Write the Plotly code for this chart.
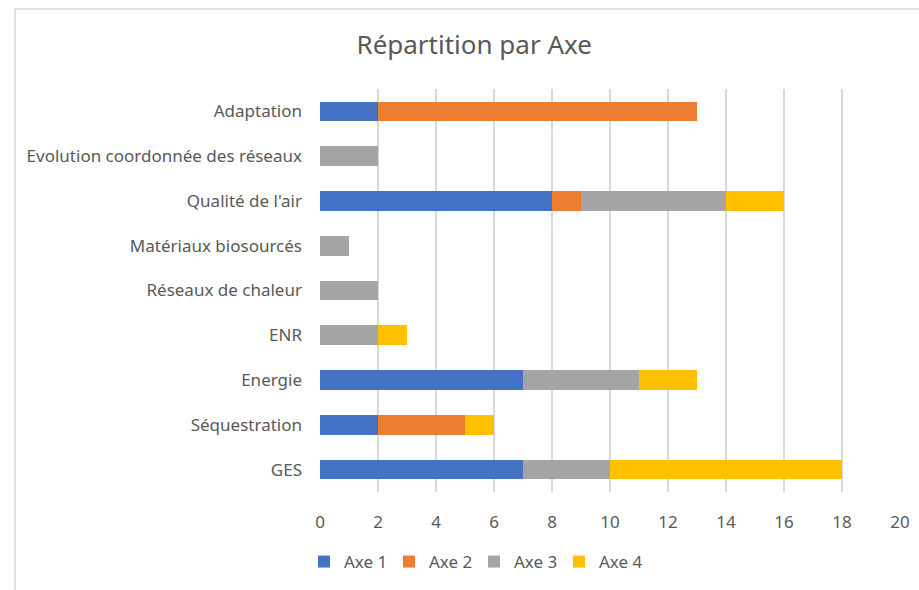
import plotly.graph_objs as go

categories = ['Adaptation', 'Evolution coordonnée des réseaux', "Qualité de l'air",
              'Matériaux biosourcés', 'Réseaux de chaleur', 'ENR', 'Energie',
              'Séquestration', 'GES']
axe1 = [2, 0, 8, 0, 0, 0, 7, 2, 7]
axe2 = [11, 0, 1, 0, 0, 0, 0, 3, 0]
axe3 = [0, 2, 5, 1, 2, 2, 4, 0, 3]
axe4 = [0, 0, 2, 0, 0, 1, 2, 1, 8]
x_ticks = [0, 2, 4, 6, 8, 10, 12, 14, 16, 18, 20]

series = [('Axe 1', axe1, '#4472C4'), ('Axe 2', axe2, '#ED7D31'),
          ('Axe 3', axe3, '#A5A5A5'), ('Axe 4', axe4, '#FFC000')]

font = 'Noto Sans'
grey = '#595959'

data = [go.Bar(y=categories, x=vals, name=name, orientation='h',
               marker=dict(color=color, line=dict(width=0)))
        for name, vals, color in series]

layout = go.Layout(
    width=919, height=590,
    margin=dict(l=320, r=19, t=89, b=98, autoexpand=False),
    barmode='stack', bargap=0.56,
    paper_bgcolor='white', plot_bgcolor='white',
    font=dict(family=font, color=grey, size=17),
    title=dict(text='Répartition par Axe', x=0.516, xref='container', xanchor='center',
               y=1 - 45 / 590, yref='container', yanchor='middle',
               font=dict(size=26, color=grey, family=font)),
    xaxis=dict(range=[0, 20], tickvals=x_ticks, showgrid=True, gridcolor='#d9d9d9',
               gridwidth=1.5, zeroline=False, showline=False, ticks='', automargin=False,
               ticklabelstandoff=18, tickfont=dict(size=17, color=grey)),
    yaxis=dict(autorange='reversed', showgrid=False, zeroline=False, showline=False,
               ticks='', automargin=False, ticklabelstandoff=17,
               tickfont=dict(size=17, color=grey)),
    legend=dict(orientation='h', x=(474 - 320) / 580, xanchor='center',
                y=(492 - 562) / 403, yanchor='middle', traceorder='normal',
                entrywidth=40, font=dict(size=17, color=grey)),
    shapes=[dict(type='rect', xref='paper', yref='paper',
                 x0=(15 - 320) / 580, x1=(930 - 320) / 580,
                 y0=(492 - 600) / 403, y1=(492 - 9) / 403,
                 line=dict(color='#d9d9d9', width=1.5))],
)

fig = go.Figure(data=data, layout=layout)
# drop the browser's default page margin so the figure sits at (0, 0)
fig.write_html('out.html', config={'displayModeBar': False},
               post_script="document.body.style.margin = '0';")
